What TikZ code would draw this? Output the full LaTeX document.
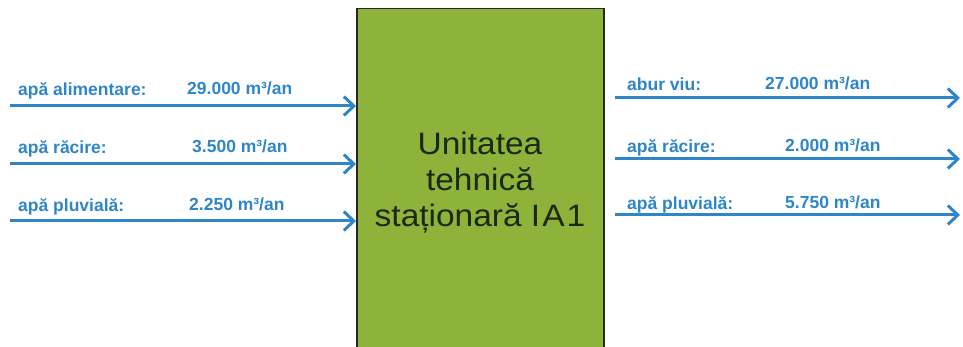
\documentclass[tikz,border=0pt]{standalone}
\usepackage{fontspec}
\setmainfont{Liberation Sans}
\newfontfamily\unitfont[FakeStretch=1.08]{Liberation Sans}
\usetikzlibrary{arrows.meta,positioning}
\definecolor{flowblue}{HTML}{2E86C8}
\definecolor{unitgreen}{HTML}{8DB33A}
\definecolor{unitink}{HTML}{1C2814}
\tikzset{
    flow/.style = {draw=flowblue, line width=3pt, -{Straight Barb[length=10pt,width=19pt]}},
    flowlabel/.style = {anchor=base west, inner sep=0pt, text=flowblue, font=\fontsize{17.5}{20}\selectfont\bfseries},
    unitbox/.style = {draw=black!85, fill=unitgreen, line width=1.5pt, minimum width=247pt, minimum height=370pt, anchor=north west},
    unitlabel/.style = {align=center, text=unitink, font=\unitfont\fontsize{31}{36}\selectfont}
}

\begin{document}
\begin{tikzpicture}[x=1pt, y=-1pt]
    \clip (0,0) rectangle (963,347);

    % Nodes
    \node[unitbox] (unit) at (356,8) {};
    \node[unitlabel] (title) at (480,183) {Unitatea\\tehnică\\staționară I\kern2pt A\kern2pt 1};

    % Intrari
    \node[flowlabel] (inA) at (18,96) {apă alimentare:};
    \node[flowlabel] (inAval) at (187,95) {29.000 m³/an};
    \node[flowlabel] (inB) at (18,154) {apă răcire:};
    \node[flowlabel] (inBval) at (192,153) {3.500 m³/an};
    \node[flowlabel] (inC) at (18,212) {apă pluvială:};
    \node[flowlabel] (inCval) at (189,211) {2.250 m³/an};

    \coordinate (srcA) at (10,106);
    \coordinate (srcB) at (10,164);
    \coordinate (srcC) at (10,221);
    \draw[flow] (srcA) -- (srcA -| unit.west);
    \draw[flow] (srcB) -- (srcB -| unit.west);
    \draw[flow] (srcC) -- (srcC -| unit.west);

    % Iesiri
    \node[flowlabel] (outA) at (627,91) {abur viu:};
    \node[flowlabel] (outAval) at (765,90) {27.000 m³/an};
    \node[flowlabel] (outB) at (627,153) {apă răcire:};
    \node[flowlabel] (outBval) at (785,152) {2.000 m³/an};
    \node[flowlabel] (outC) at (627,210) {apă pluvială:};
    \node[flowlabel] (outCval) at (785,209) {5.750 m³/an};

    \coordinate (dstA) at (960,98);
    \coordinate (dstB) at (960,159);
    \coordinate (dstC) at (960,215);
    \draw[flow] ([xshift=10pt]unit.east |- dstA) -- (dstA);
    \draw[flow] ([xshift=10pt]unit.east |- dstB) -- (dstB);
    \draw[flow] ([xshift=10pt]unit.east |- dstC) -- (dstC);

\end{tikzpicture}
\end{document}
